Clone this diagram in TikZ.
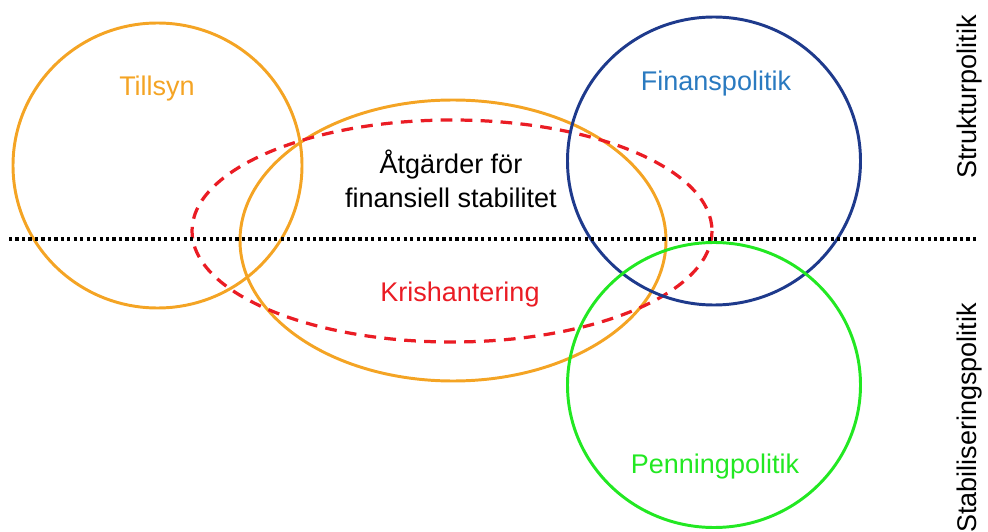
\documentclass[tikz,border=0pt]{standalone}
\usepackage{fontspec}
\setmainfont{Liberation Sans}
\usepackage{tikz}

\definecolor{tillsynorange}{RGB}{244,164,36}
\definecolor{krisred}{RGB}{234,28,36}
\definecolor{finansblue}{RGB}{30,58,140}
\definecolor{finanstext}{RGB}{42,122,192}
\definecolor{penninggreen}{RGB}{34,232,34}

\begin{document}
\begin{tikzpicture}[x=0.025cm, y=-0.025cm,
  ring/.style={line width=2.1pt},
  lbl/.style={font=\fontsize{19.2}{24}\selectfont, anchor=base, inner sep=0pt}]
  \useasboundingbox (0,0) rectangle (988,532);
  % areas
  \draw [ring, tillsynorange] (157.5,165.5) ellipse [x radius=144.5, y radius=142.5];
  \draw [ring, tillsynorange] (453,240.5) ellipse [x radius=213, y radius=140.5];
  \draw [ring, krisred, line width=2.3pt, dash pattern=on 8.3pt off 5.9pt] (452,231) ellipse [x radius=260, y radius=111];
  \draw [ring, finansblue] (714,161) ellipse [x radius=146.5, y radius=144];
  \draw [ring, penninggreen] (714,385) ellipse [x radius=146.5, y radius=142.5];
  % split between the two kinds of policy
  \coordinate (splitL) at (9,239);
  \coordinate (splitR) at (978,239);
  \draw [line width=2.6pt, dash pattern=on 2.3pt off 2.3pt] (splitL) -- (splitR);
  % labels
  \node [lbl, text=tillsynorange] (tillsyn) at (157,96) {Tillsyn};
  \node [lbl, text=finanstext] (finans) at (716,91) {Finanspolitik};
  \node [lbl, align=center] (atgarder) at (451,207) {Åtgärder för\\finansiell stabilitet};
  \node [lbl, text=krisred] (kris) at (460,301) {Krishantering};
  \node [lbl, text=penninggreen] (penning) at (715,473) {Penningpolitik};
  \node [lbl, anchor=center, rotate=90] (struktur) at (970,97) {Strukturpolitik};
  \node [lbl, anchor=center, rotate=90] (stabil) at (970,418) {Stabiliseringspolitik};
\end{tikzpicture}
\end{document}
